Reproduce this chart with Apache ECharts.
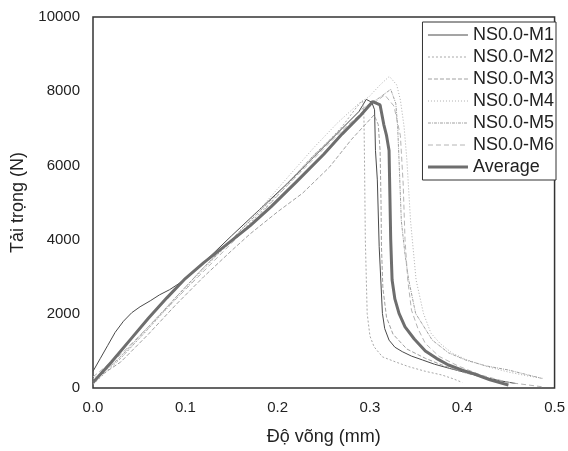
<!DOCTYPE html>
<html>
<head>
<meta charset="utf-8">
<script src="https://cdn.jsdelivr.net/npm/echarts@6/dist/echarts.min.js"></script>
<style>
html,body{margin:0;padding:0;background:#fff;}
#chart{width:568px;height:451px;}
</style>
</head>
<body>
<div id="chart"></div>
<script>
// ---- data (deflection mm, load N) ----
const seriesNames = ["NS0.0-M1","NS0.0-M2","NS0.0-M3","NS0.0-M4","NS0.0-M5","NS0.0-M6","Average"];
const xTicks = [0.0, 0.1, 0.2, 0.3, 0.4, 0.5];
const yTicks = [0, 2000, 4000, 6000, 8000, 10000];

const m1X = [0, 0.008, 0.016, 0.024, 0.033, 0.042, 0.051, 0.062, 0.072, 0.083, 0.094, 0.12, 0.15, 0.18, 0.21, 0.24, 0.27, 0.288, 0.296, 0.302, 0.305, 0.306, 0.308, 0.310, 0.3135, 0.316, 0.3207, 0.327, 0.335, 0.345, 0.357, 0.37, 0.386, 0.40, 0.4215, 0.44, 0.458];
const m1Y = [450, 800, 1150, 1500, 1800, 2030, 2190, 2350, 2510, 2650, 2830, 3380, 4100, 4800, 5500, 6250, 7000, 7450, 7780, 7700, 7500, 6400, 5610, 3810, 2010, 1600, 1290, 1100, 980, 860, 755, 640, 530, 440, 305, 200, 120];

const m2X = [0, 0.03, 0.06, 0.09, 0.12, 0.15, 0.18, 0.21, 0.24, 0.27, 0.285, 0.292, 0.2935, 0.294, 0.295, 0.297, 0.300, 0.3045, 0.3135, 0.328, 0.342, 0.36, 0.378, 0.39, 0.40];
const m2Y = [100, 800, 1600, 2450, 3250, 3950, 4700, 5450, 6250, 7050, 7550, 7750, 7300, 6400, 4000, 2010, 1400, 1110, 840, 700, 575, 450, 350, 250, 150];

const m3X = [0, 0.03, 0.06, 0.09, 0.12, 0.15, 0.17, 0.2, 0.227, 0.256, 0.28, 0.3045, 0.309, 0.311, 0.312, 0.3125, 0.314, 0.318, 0.325, 0.34, 0.36, 0.38, 0.40, 0.42, 0.44];
const m3Y = [200, 700, 1450, 2250, 3000, 3700, 4150, 4750, 5250, 5950, 6700, 7360, 7100, 6400, 5000, 3800, 2700, 1900, 1450, 1050, 800, 600, 430, 300, 170];

const m4X = [0, 0.03, 0.06, 0.09, 0.12, 0.15, 0.18, 0.213, 0.24, 0.265, 0.288, 0.299, 0.311, 0.321, 0.329, 0.333, 0.337, 0.340, 0.344, 0.350, 0.358, 0.366, 0.376, 0.389, 0.405, 0.428, 0.45, 0.47, 0.487];
const m4Y = [250, 800, 1600, 2400, 3200, 4000, 4800, 5740, 6500, 7150, 7670, 7850, 8170, 8400, 8170, 7760, 7040, 6150, 4500, 2910, 2010, 1480, 1200, 940, 760, 570, 430, 330, 260];

const m5X = [0, 0.03, 0.06, 0.09, 0.12, 0.15, 0.18, 0.21, 0.24, 0.27, 0.29, 0.31, 0.3225, 0.328, 0.330, 0.3315, 0.334, 0.338, 0.342, 0.3495, 0.3675, 0.385, 0.4035, 0.425, 0.45, 0.47, 0.486];
const m5Y = [150, 850, 1650, 2450, 3250, 4000, 4750, 5500, 6300, 7000, 7500, 7820, 8050, 7670, 7050, 6150, 4500, 3600, 2910, 2010, 1290, 950, 755, 600, 485, 360, 260];

const m6X = [0, 0.03, 0.06, 0.09, 0.12, 0.15, 0.18, 0.21, 0.24, 0.27, 0.295, 0.316, 0.326, 0.333, 0.336, 0.338, 0.341, 0.345, 0.352, 0.36, 0.375, 0.395, 0.42, 0.45, 0.486];
const m6Y = [300, 900, 1650, 2400, 3150, 3900, 4650, 5450, 6200, 6950, 7500, 7900, 7600, 6800, 5500, 4000, 2900, 2100, 1600, 1200, 850, 600, 350, 150, 35];

const avgX = [0, 0.02, 0.04, 0.06, 0.08, 0.10, 0.12, 0.144, 0.17, 0.193, 0.22, 0.25, 0.27, 0.29, 0.303, 0.311, 0.315, 0.318, 0.3207, 0.3225, 0.324, 0.327, 0.3315, 0.338, 0.348, 0.36, 0.372, 0.385, 0.40, 0.414, 0.43, 0.45];
const avgY = [150, 700, 1290, 1880, 2430, 2950, 3380, 3850, 4370, 4890, 5550, 6300, 6850, 7350, 7720, 7630, 7100, 6800, 6400, 4000, 2910, 2400, 2010, 1650, 1320, 1000, 800, 620, 480, 370, 220, 80];

const allX = [m1X, m2X, m3X, m4X, m5X, m6X, avgX];
const allY = [m1Y, m2Y, m3Y, m4Y, m5Y, m6Y, avgY];

// ---- styles ----
const styles = [
  {color:'#4a4a4a', width:1, type:'solid'},
  {color:'#a8a8a8', width:1, type:[2,2]},
  {color:'#a0a0a0', width:1, type:[4,2]},
  {color:'#b0b0b0', width:1, type:[1,2]},
  {color:'#a0a0a0', width:1, type:[3,1,1,1]},
  {color:'#b4b4b4', width:1, type:[5,3]},
  {color:'#6e6e6e', width:3, type:'solid'}
];

const FONT = "'Liberation Sans', Arial, sans-serif";

const series = seriesNames.map((name, k) => ({
  name: name,
  type: 'line',
  symbol: 'none',
  z: k === 6 ? 5 : 2,
  lineStyle: styles[k],
  itemStyle: {color: styles[k].color},
  data: allX[k].map((x, i) => [x, allY[k][i]])
}));

const legendData = seriesNames.map((name, k) => ({
  name: name,
  lineStyle: {width: styles[k].width, color: styles[k].color, type: styles[k].type}
}));

const chart = echarts.init(document.getElementById('chart'), null, {renderer:'canvas'});
chart.setOption({
  animation: false,
  backgroundColor: '#fff',
  textStyle: {fontFamily: FONT},
  grid: {left: 93, right: 12, top: 17, bottom: 63, show: true, borderColor: '#333', borderWidth: 1.5, backgroundColor: 'transparent'},
  legend: {
    orient: 'vertical',
    right: 12, top: 22,
    data: legendData,
    itemWidth: 40, itemHeight: 14, itemGap: 4,
    padding: [4, 2, 4, 4],
    borderColor: '#333', borderWidth: 1,
    backgroundColor: '#fff',
    itemStyle: {opacity: 0},
    textStyle: {fontSize: 18, color: '#222', fontFamily: FONT}
  },
  xAxis: {
    type: 'value', min: xTicks[0], max: xTicks[xTicks.length-1], interval: 0.1,
    name: 'Độ võng (mm)', nameLocation: 'middle', nameGap: 40,
    nameTextStyle: {fontSize: 18, color: '#222', fontFamily: FONT},
    axisLine: {show: false}, axisTick: {show: false}, splitLine: {show: false},
    axisLabel: {fontSize: 15, color: '#222', margin: 12, fontFamily: FONT, formatter: v => v.toFixed(1)}
  },
  yAxis: {
    type: 'value', min: yTicks[0], max: yTicks[yTicks.length-1], interval: 2000,
    name: 'Tải trọng (N)', nameLocation: 'middle', nameGap: 56, nameRotate: 90,
    nameTextStyle: {fontSize: 18, color: '#222', fontFamily: FONT},
    axisLine: {show: false}, axisTick: {show: false}, splitLine: {show: false},
    axisLabel: {fontSize: 15, color: '#222', margin: 13, fontFamily: FONT, formatter: v => String(v)}
  },
  series: series
});
</script>
</body>
</html>
